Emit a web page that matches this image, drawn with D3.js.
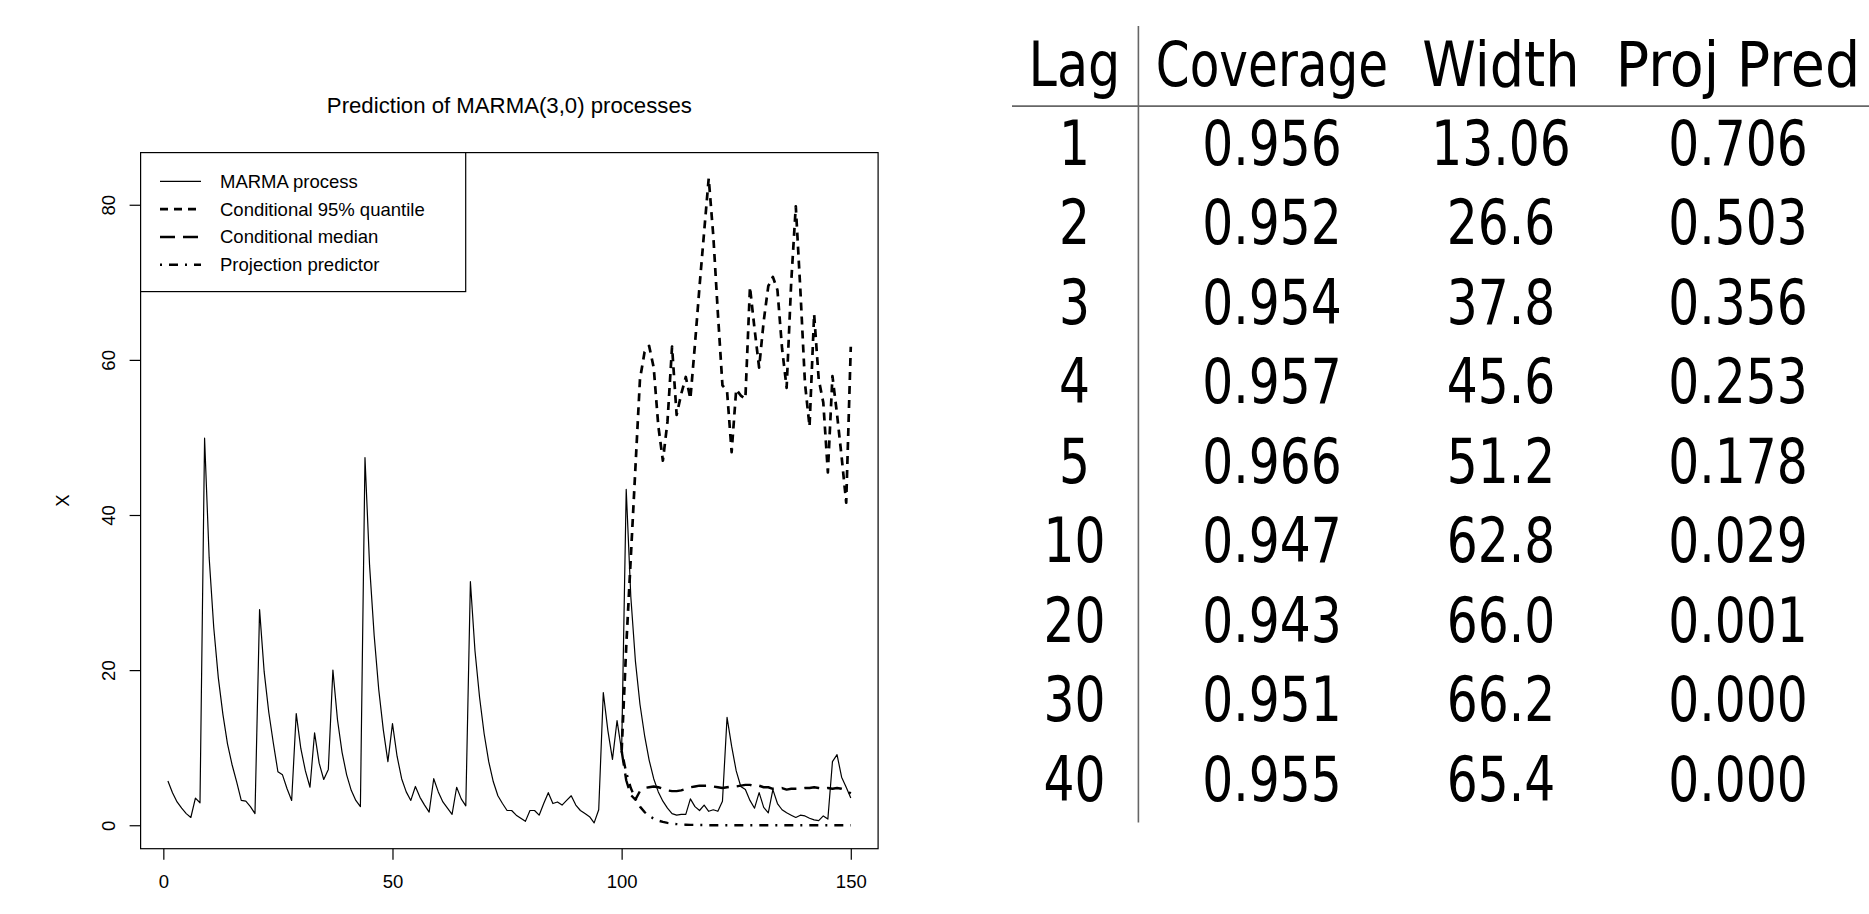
<!DOCTYPE html>
<html><head><meta charset="utf-8">
<script src="https://cdn.jsdelivr.net/npm/d3@7"></script>
<style>body{margin:0;background:#fff;}</style>
</head><body>
<svg id="c" width="1869" height="914"></svg>
<script>
// ---------------- data ----------------
const title = "Prediction of MARMA(3,0) processes";
const yLabel = "X";
const xTicks = [0, 50, 100, 150];
const yTicks = [0, 20, 40, 60, 80];

// observed MARMA process, t = 1..150
const marma = [
  5.7,4.2,3.0,2.2,1.5,1.0,3.5,2.9,49.9,34.5,
  25.5,19.0,14.3,10.5,7.8,5.6,3.2,3.1,2.4,1.5,
  27.8,19.8,14.6,10.6,6.9,6.5,4.7,3.2,14.4,9.9,
  7.0,4.9,11.9,8.0,5.9,7.2,20.0,13.6,9.4,6.5,
  4.5,3.2,2.4,47.4,33.5,24.5,17.5,12.3,8.2,13.1,
  8.9,6.0,4.3,3.2,5.0,3.6,2.6,1.7,6.0,4.3,
  3.0,2.2,1.4,4.9,3.4,2.5,31.4,22.5,16.5,11.8,
  8.2,5.6,3.8,2.8,1.9,1.9,1.3,0.9,0.5,1.9,
  1.9,1.3,2.8,4.2,2.8,3.0,2.6,3.2,3.8,2.6,
  1.9,1.5,1.1,0.3,2.0,17.1,12.2,8.5,13.5,9.6,
  43.3,29.5,21.2,15.6,11.6,8.4,6.0,4.3,3.1,2.2,
  1.5,1.3,1.4,1.4,3.4,2.4,1.9,2.6,1.8,2.0,
  1.8,3.1,13.9,10.2,7.0,5.0,4.6,3.2,2.2,4.2,
  2.3,1.6,4.6,2.8,2.0,1.6,1.3,1.0,1.3,1.2,
  0.9,0.7,0.6,1.2,0.8,8.2,9.1,6.2,4.9,3.5
];
// predictions start at t = 100
const predStart = 100;
const quantile95 = [
  9.6,23.0,34.5,46.0,57.5,61.0,61.8,59.0,51.5,47.0,
  52.0,61.7,52.9,55.6,57.8,55.0,62.0,69.5,76.5,83.4,
  76.0,66.0,56.7,56.0,48.1,56.2,55.4,55.0,69.4,64.0,
  59.0,65.0,69.5,70.7,69.0,61.5,56.4,70.0,79.8,69.0,
  57.0,51.4,65.9,57.5,54.5,45.5,57.9,53.0,47.5,41.6,
  61.7
];
const condMedian = [
  9.6,5.8,3.9,3.3,4.4,4.8,4.9,5.0,4.9,4.7,
  4.5,4.4,4.4,4.5,4.7,4.9,5.0,5.1,5.1,5.1,
  5.0,4.9,4.8,4.9,5.0,5.0,5.1,5.2,5.2,5.0,
  5.1,4.9,4.9,4.7,4.7,4.8,4.6,4.7,4.7,4.7,
  4.8,4.8,4.9,4.8,4.7,4.8,4.7,4.8,4.7,4.5,
  4.1
];
const projPredictor = [
  9.6,6.8,4.8,3.4,2.4,1.7,1.2,0.85,0.6,0.43,
  0.3,0.21,0.15,0.1,0.07,0.05,0.04,0.03,0.02,0.01,
  0,0,0,0,0,0,0,0,0,0,
  0,0,0,0,0,0,0,0,0,0,
  0,0,0,0,0,0,0,0,0,0,
  0
];
const legendLabels = ["MARMA process", "Conditional 95% quantile", "Conditional median", "Projection predictor"];

// table
const tableHeader = ["Lag", "Coverage", "Width", "Proj Pred"];
const lags = ["1","2","3","4","5","10","20","30","40"];
const coverage = ["0.956","0.952","0.954","0.957","0.966","0.947","0.943","0.951","0.955"];
const widths = ["13.06","26.6","37.8","45.6","51.2","62.8","66.0","66.2","65.4"];
const projPred = ["0.706","0.503","0.356","0.253","0.178","0.029","0.001","0.000","0.000"];

// ---------------- styles / layout ----------------
const FONT = "'Liberation Sans', Arial, Helvetica, sans-serif";
const plot = {left: 140.6, right: 878.1, top: 152.6, bottom: 848.7};
const lw1 = 1.2, lw2 = 2.4;
const seriesStyle = [
  {w: lw1, dash: null},
  {w: 2.7, dash: "8,6"},
  {w: lw2, dash: "15,8"},
  {w: lw2, dash: "2,7,9,7"}
];

const svg = d3.select("#c");
svg.append("rect").attr("width",1869).attr("height",914).attr("fill","#fff");

// scales (R style 4% padding)
const xr = [1, marma.length];
const xpad = 0.04 * (xr[1] - xr[0]);
const x = d3.scaleLinear().domain([xr[0] - xpad, xr[1] + xpad]).range([plot.left, plot.right]);
const allY = marma.concat(quantile95);
const ymin = d3.min(allY), ymax = d3.max(allY);
const ypad = 0.04 * (ymax - ymin);
const y = d3.scaleLinear().domain([ymin - ypad, ymax + ypad]).range([plot.bottom, plot.top]);

const g = svg.append("g");

// series
const obs = marma.map((v, i) => ({t: i + 1, v}));
const pred = arr => arr.map((v, i) => ({t: predStart + i, v}));
const line = d3.line().x(d => x(d.t)).y(d => y(d.v));
const seriesData = [obs, pred(quantile95), pred(condMedian), pred(projPredictor)];

svg.append("clipPath").attr("id","pc").append("rect")
  .attr("x", plot.left).attr("y", plot.top)
  .attr("width", plot.right - plot.left).attr("height", plot.bottom - plot.top);

seriesData.forEach((d, k) => {
  g.append("path").datum(d)
    .attr("d", line)
    .attr("fill", "none")
    .attr("stroke", "#000")
    .attr("stroke-width", seriesStyle[k].w)
    .attr("stroke-linejoin", "round")
    .attr("stroke-linecap", "butt")
    .attr("stroke-dasharray", seriesStyle[k].dash)
    .attr("clip-path", "url(#pc)");
});

// box
g.append("rect")
  .attr("x", plot.left).attr("y", plot.top)
  .attr("width", plot.right - plot.left).attr("height", plot.bottom - plot.top)
  .attr("fill", "none").attr("stroke", "#000").attr("stroke-width", 1.2);

// x axis
const gx = svg.append("g").attr("transform", `translate(0,${plot.bottom})`)
  .call(d3.axisBottom(x).tickValues(xTicks).tickSize(11).tickPadding(15).tickFormat(d3.format("d")));
gx.select(".domain").remove();
gx.attr("font-family", FONT).attr("font-size", 18.5);
gx.selectAll("line").attr("stroke", "#000").attr("stroke-width", 1.2);
gx.selectAll("text").attr("fill", "#000");

// y axis
const gy = svg.append("g").attr("transform", `translate(${plot.left},0)`)
  .call(d3.axisLeft(y).tickValues(yTicks).tickSize(11).tickFormat(d3.format("d")));
gy.select(".domain").remove();
gy.attr("font-family", FONT).attr("font-size", 18.5);
gy.selectAll("line").attr("stroke", "#000").attr("stroke-width", 1.2);
gy.selectAll("text")
  .attr("x", null).attr("dy", null)
  .attr("text-anchor", "middle")
  .attr("transform", `translate(${114.5 - plot.left},0) rotate(-90)`)
  .attr("fill", "#000");

// axis label
svg.append("text")
  .attr("transform", `translate(68.5,${(plot.top + plot.bottom) / 2}) rotate(-90)`)
  .attr("text-anchor", "middle")
  .attr("font-family", FONT).attr("font-size", 18.5)
  .text(yLabel);

// title
svg.append("text")
  .attr("x", (plot.left + plot.right) / 2).attr("y", 113)
  .attr("text-anchor", "middle")
  .attr("font-family", FONT).attr("font-size", 22.2)
  .text(title);

// legend
const leg = svg.append("g");
leg.append("rect")
  .attr("x", plot.left).attr("y", plot.top)
  .attr("width", 465.7 - plot.left).attr("height", 291.6 - plot.top)
  .attr("fill", "#fff").attr("stroke", "#000").attr("stroke-width", 1.2);
const legY = d3.scaleLinear().domain([0, 3]).range([181.3, 264.8]);
legendLabels.forEach((lab, k) => {
  const yy = legY(k);
  leg.append("line").attr("x1", 160).attr("x2", 201).attr("y1", yy).attr("y2", yy)
    .attr("stroke", "#000").attr("stroke-width", seriesStyle[k].w)
    .attr("stroke-dasharray", seriesStyle[k].dash);
  leg.append("text").attr("x", 220).attr("y", yy).attr("dy", "0.35em")
    .attr("font-family", FONT).attr("font-size", 18.5).text(lab);
});

// ---------------- table ----------------
const TFONT = "'DejaVu Sans', sans-serif";
const tfs = 62, sx = 0.786;
const colX = [1074.5, 1272, 1501, 1738];
const headerW = [91.8, 232.4, 157.3, 244.4];
const rowY = d3.scaleLinear().domain([0, lags.length - 1]).range([164.5, 801]);
const tg = svg.append("g").attr("font-family", TFONT).attr("font-size", tfs).attr("fill", "#000");

tableHeader.forEach((h, j) => {
  const t = tg.append("text").attr("text-anchor", "middle").text(h);
  const natural = t.node().getComputedTextLength();
  const s = natural > 0 ? headerW[j] / natural : sx;
  t.attr("transform", `translate(${colX[j]},85.8) scale(${s},1)`);
});
const cols = [lags, coverage, widths, projPred];
cols.forEach((col, j) => {
  col.forEach((v, i) => {
    tg.append("text")
      .attr("transform", `translate(${colX[j]},${rowY(i)}) scale(${sx},1)`)
      .attr("text-anchor", "middle")
      .text(v);
  });
});
svg.append("line").attr("x1", 1138.4).attr("x2", 1138.4).attr("y1", 26).attr("y2", 822.5)
  .attr("stroke", "#666").attr("stroke-width", 1.6);
svg.append("line").attr("x1", 1012).attr("x2", 1869).attr("y1", 106.1).attr("y2", 106.1)
  .attr("stroke", "#666").attr("stroke-width", 1.6);
</script>
</body></html>
